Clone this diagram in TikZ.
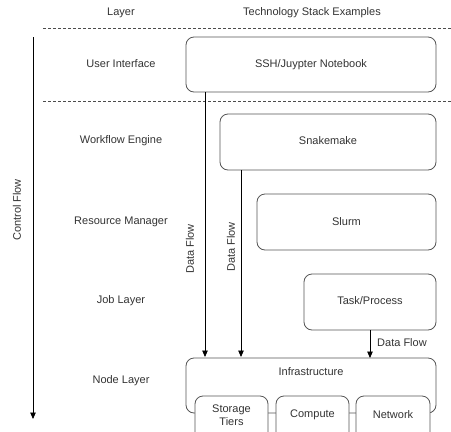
\documentclass[tikz,border=0pt]{standalone}
\usepackage{fontspec}
\setmainfont{Liberation Sans}
\usetikzlibrary{arrows.meta}
\definecolor{bord}{HTML}{555555}
\definecolor{txt}{HTML}{333333}
\begin{document}
\begin{tikzpicture}[x=1pt,y=-1pt,
  every node/.style={font=\fontsize{11}{12}\selectfont, text=txt},
  box/.style={draw=bord, line width=0.8pt, rounded corners=8pt, fill=white},
  flow/.style={draw=black, line width=0.8pt, -{Triangle[length=6.5pt,width=5.5pt]}},
  sep/.style={draw=black!70, dashed, line width=0.6pt, dash pattern=on 2.5pt off 2.5pt}]
\useasboundingbox (0,0) rectangle (451,432);
% headers
\node (hlayer) at (121,13) {Layer};
\node (htech) at (312,13) {Technology Stack Examples};
\draw[sep] (43,28) -- (451,28);
\draw[sep] (43,101) -- (451,101);
% left labels
\node (lui) at (121,64) {User Interface};
\node (lwf) at (121,141) {Workflow Engine};
\node (lrm) at (121,222) {Resource Manager};
\node (ljob) at (121,301) {Job Layer};
\node (lnode) at (121,381) {Node Layer};
% control flow
\coordinate (cf1) at (33,37);
\coordinate (cf2) at (33,419);
\draw[flow] (cf1) -- (cf2);
\node[rotate=90] (cftxt) at (17,210) {Control Flow};
% boxes
\draw[box] (186,37) rectangle (436,92);
\node (ui) at (311,64.5) {SSH/Juypter Notebook};
\draw[box] (220,114) rectangle (436,170);
\node (sm) at (328,141) {Snakemake};
\draw[box] (257,194) rectangle (436,250);
\node (sl) at (346.5,222) {Slurm};
\draw[box] (304,274) rectangle (436,330);
\node (tp) at (370,301) {Task/Process};
\draw[box] (186,358) rectangle (436,413);
\node (inf) at (311,372) {Infrastructure};
\draw[box] (195,396) rectangle (268,440);
\node[align=center, font=\fontsize{11}{13.5}\selectfont] (st) at (231.5,415) {Storage\\Tiers};
\draw[box] (276,396) rectangle (349,440);
\node (cp) at (312.5,415) {Compute};
\draw[box] (356,396) rectangle (430,440);
\node (nw) at (393,415) {Network};
% data flows
\coordinate (a1) at (205,92);
\coordinate (a1e) at (205,357);
\draw[flow] (a1) -- (a1e);
\node[rotate=90] (d1) at (190,249) {Data Flow};
\coordinate (a2) at (241,170);
\coordinate (a2e) at (241,357);
\draw[flow] (a2) -- (a2e);
\node[rotate=90] (d2) at (231,247) {Data Flow};
\coordinate (a3) at (370,330);
\coordinate (a3e) at (370,358);
\draw[flow] (a3) -- (a3e);
\node (d3) at (402,343) {Data Flow};
\end{tikzpicture}
\end{document}
